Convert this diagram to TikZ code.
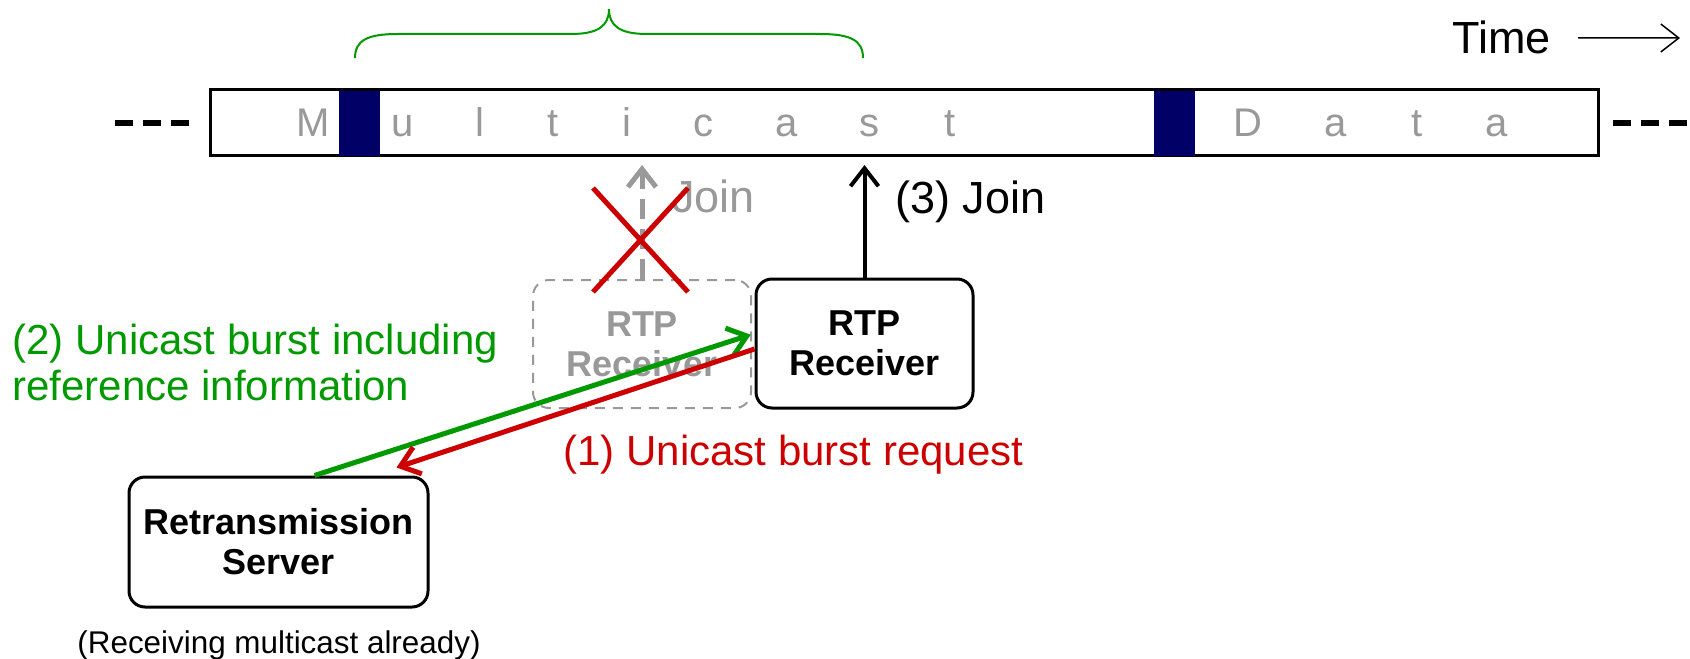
\documentclass[tikz,border=0pt]{standalone}
\usepackage{fontspec}
\setmainfont{Liberation Sans}
\usepackage{tikz}
\usetikzlibrary{positioning, arrows.meta, calc}
\definecolor{rtpGreen}{HTML}{009900}
\definecolor{rtpRed}{HTML}{CC0000}
\definecolor{rtpNavy}{HTML}{000066}
\definecolor{rtpGray}{HTML}{999999}

\begin{document}
\begin{tikzpicture}[x=0.5pt, y=-0.5pt, font=\fontsize{21pt}{23pt}\selectfont,
    caja/.style={draw, line width=1.5pt, rounded corners=8pt, align=center, inner sep=0pt,
      font=\fontsize{18pt}{20pt}\selectfont\bfseries},
    cajaFantasma/.style={caja, draw=rtpGray, line width=1pt, dash pattern=on 5pt off 4pt, text=rtpGray},
    flecha/.style={line width=2.5pt, -{Straight Barb[length=9pt, width=14pt]}},
    letra/.style={anchor=base, text=rtpGray, inner sep=0pt, font=\fontsize{20pt}{24pt}\selectfont},
    etiqueta/.style={anchor=base west, inner sep=0pt, font=\fontsize{22.5pt}{26pt}\selectfont}]
  \useasboundingbox (0,0) rectangle (1690,658);

  % Flujo multicast
  \node[draw, line width=1.5pt, minimum width=694pt, minimum height=32.5pt, inner sep=0pt] (flujo) at (904,122.5) {};
  \fill[rtpNavy] (339,91) rectangle (380,156);
  \fill[rtpNavy] (1154,91) rectangle (1195,156);
  \foreach \letra/\x in {M/313, u/403, l/480, t/553, i/627, c/703, a/787, s/869, t/950,
                        D/1248, a/1336, t/1417, a/1497} {
    \node[letra] (l\x) at (\x,136) {\letra};
  }
  \draw[line width=2.5pt, dash pattern=on 9pt off 5pt] (115,123) -- (189,123);
  \draw[line width=2.5pt, dash pattern=on 9pt off 5pt] (1613,123) -- (1690,123);

  % Llave
  \draw[rtpGreen, line width=1pt] (355,58) .. controls (355,40) and (368,34) .. (398,34) -- (571,34)
    .. controls (598,34) and (609,26) .. (609,9) .. controls (609,26) and (620,34) .. (647,34)
    -- (820,34) .. controls (850,34) and (863,40) .. (863,58);

  % Eje de tiempo
  \node[etiqueta] (tiempo) at (1452,54) {Time};
  \coordinate (tiempoFin) at (1680,38);
  \draw[line width=0.75pt, -{Straight Barb[length=9pt, width=14pt]}, shorten <=13.5pt] (tiempo) -- (tiempoFin);

  % Receptores y servidor
  \node[cajaFantasma, minimum width=109pt, minimum height=64pt] (fantasma) at (642,344) {RTP\\Receiver};
  \node[caja, minimum width=108.5pt, minimum height=64.5pt] (rcv) at (864.5,343.5) {RTP\\Receiver};
  \node[caja, minimum width=149.5pt, minimum height=65pt] (srv) at (278.5,542) {Retransmission\\Server};
  \node[anchor=base, inner sep=0pt, font=\fontsize{15.7pt}{18pt}\selectfont] (nota) at (279,653) {(Receiving multicast already)};

  % Join
  \coordinate (unir) at (865,165);
  \draw[flecha, rtpGray, dash pattern=on 10pt off 5pt] (fantasma.north) -- (fantasma.north |- unir);
  \node[etiqueta, text=rtpGray] (joinFantasma) at (672,212) {Join};
  \draw[rtpRed, line width=2.5pt] (593,188) -- (688,292) (688,188) -- (593,292);
  \draw[line width=2pt, -{Straight Barb[length=9pt, width=14pt]}] (rcv.north) -- (rcv.north |- unir);
  \node[etiqueta] (join3) at (895,213) {(3) Join};

  % Rafaga unicast
  \draw[flecha, rtpGreen, shorten >=2pt] ([xshift=18pt]srv.north) -- ([yshift=5pt]rcv.west);
  \draw[flecha, rtpRed] ([yshift=-2.75pt]rcv.west) -- ([xshift=59pt,yshift=4pt]srv.north);
  \node[anchor=west, align=left, inner sep=0pt, text=rtpGreen] (txtRafaga) at (12,362.5)
    {(2) Unicast burst including\\reference information};
  \node[anchor=base west, inner sep=0pt, text=rtpRed] (txtPeticion) at (563,465) {(1) Unicast burst request};
\end{tikzpicture}
\end{document}
